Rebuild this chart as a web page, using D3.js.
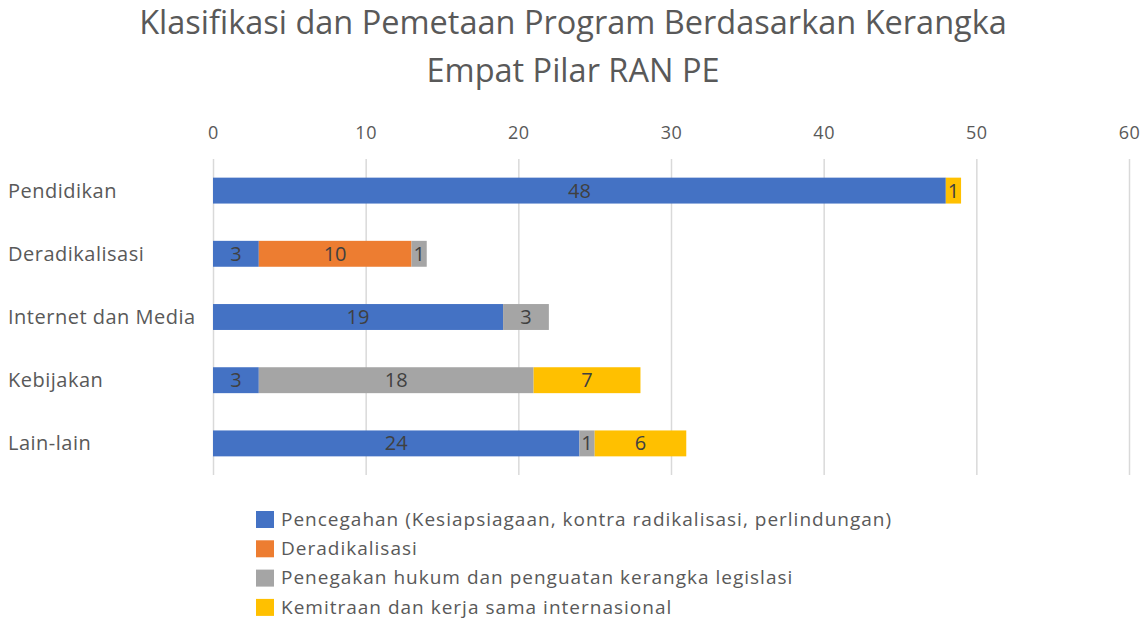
<!DOCTYPE html>
<html>
<head>
<meta charset="utf-8">
<script src="https://cdn.jsdelivr.net/npm/d3@7"></script>
<style>
  body { margin: 0; background: #fff; }
  text { font-family: "Open Sans", "Noto Sans", sans-serif; }
</style>
</head>
<body>
<svg id="chart"></svg>
<script>
// chart data
const categories = ["Pendidikan", "Deradikalisasi", "Internet dan Media", "Kebijakan", "Lain-lain"];
const seriesNames = [
  "Pencegahan (Kesiapsiagaan, kontra radikalisasi, perlindungan)",
  "Deradikalisasi",
  "Penegakan hukum dan penguatan kerangka legislasi",
  "Kemitraan dan kerja sama internasional"
];
const pencegahan = [48, 3, 19, 3, 24];
const deradikalisasi = [0, 10, 0, 0, 0];
const penegakan = [0, 1, 3, 18, 1];
const kemitraan = [1, 0, 0, 7, 6];
const xTicks = [0, 10, 20, 30, 40, 50, 60];
const titleLines = ["Klasifikasi dan Pemetaan Program Berdasarkan Kerangka", "Empat Pilar RAN PE"];

const colors = ["#4472C4", "#ED7D31", "#A5A5A5", "#FFC000"];

const width = 1146, height = 622;
const margin = {top: 159, right: 17, bottom: 147, left: 213};

const svg = d3.select("#chart")
    .attr("width", width)
    .attr("height", height);

// build rows for the stack
const rows = categories.map((c, i) => ({
  cat: c,
  s0: pencegahan[i],
  s1: deradikalisasi[i],
  s2: penegakan[i],
  s3: kemitraan[i]
}));
const keys = ["s0", "s1", "s2", "s3"];
const stacked = d3.stack().keys(keys)(rows);

const x = d3.scaleLinear()
    .domain([0, 60])
    .range([margin.left, width - margin.right]);

const y = d3.scaleBand()
    .domain(categories)
    .range([margin.top, height - margin.bottom])
    .paddingInner(0.59)
    .paddingOuter(0.295);

// title
svg.append("g").selectAll("text")
    .data(titleLines)
    .enter().append("text")
    .attr("x", 573)
    .attr("y", (d, i) => 34 + i * 48)
    .attr("text-anchor", "middle")
    .attr("fill", "#595959")
    .style("font-size", "32.5px")
    .text(d => d);

// gridlines + top axis labels
const xAxis = d3.axisTop(x)
    .tickValues(xTicks)
    .tickSize(-(height - margin.bottom - margin.top))
    .tickPadding(20);

svg.append("g")
    .attr("transform", `translate(0,${margin.top})`)
    .call(xAxis)
    .call(g => g.select(".domain").remove())
    .call(g => g.selectAll(".tick line").attr("stroke", "#D9D9D9").attr("stroke-width", 1.5))
    .call(g => g.selectAll(".tick text")
        .attr("fill", "#595959")
        .style("font-size", "18px")
        .style("letter-spacing", "0.5px")
        .style("font-family", "'Open Sans', sans-serif"));

// category labels
svg.append("g").selectAll("text")
    .data(categories)
    .enter().append("text")
    .attr("x", 8)
    .attr("y", d => y(d) + y.bandwidth() / 2)
    .attr("dy", "0.35em")
    .attr("fill", "#595959")
    .style("font-size", "20px")
    .style("letter-spacing", "0.5px")
    .text(d => d);

// bars
const layer = svg.append("g").selectAll("g")
    .data(stacked)
    .enter().append("g")
    .attr("fill", (d, i) => colors[i]);

layer.selectAll("rect")
    .data(d => d.filter(p => p[1] - p[0] > 0))
    .enter().append("rect")
    .attr("x", d => x(d[0]))
    .attr("y", d => y(d.data.cat))
    .attr("width", d => x(d[1]) - x(d[0]))
    .attr("height", y.bandwidth());

// value labels
layer.selectAll("text")
    .data(d => d.filter(p => p[1] - p[0] > 0))
    .enter().append("text")
    .attr("x", d => (x(d[0]) + x(d[1])) / 2)
    .attr("y", d => y(d.data.cat) + y.bandwidth() / 2)
    .attr("dy", "0.35em")
    .attr("text-anchor", "middle")
    .attr("fill", "#404040")
    .style("font-size", "20px")
    .text(d => d[1] - d[0]);

// legend
const legend = svg.append("g").selectAll("g")
    .data(seriesNames)
    .enter().append("g")
    .attr("transform", (d, i) => `translate(256,${519 + i * 29.3})`);

legend.append("rect")
    .attr("x", 0)
    .attr("y", -8)
    .attr("width", 18)
    .attr("height", 17)
    .attr("fill", (d, i) => colors[i]);

legend.append("text")
    .attr("x", 25)
    .attr("y", 0)
    .attr("dy", "0.35em")
    .attr("fill", "#595959")
    .style("font-size", "19px")
    .style("letter-spacing", "1px")
    .text(d => d);
</script>
</body>
</html>
